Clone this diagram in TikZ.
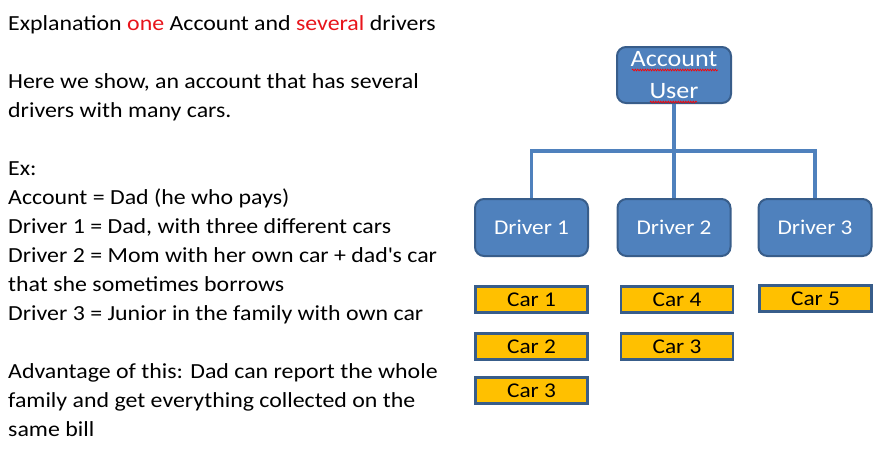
\documentclass[tikz,border=0pt]{standalone}
\usepackage{fontspec}
\setmainfont{Carlito}[FakeStretch=1.11]
\usetikzlibrary{decorations.pathmorphing}
\definecolor{boxblue}{HTML}{4F81BD}
\definecolor{edgeblue}{HTML}{385D8A}
\definecolor{caryellow}{HTML}{FFC000}
\definecolor{txtred}{HTML}{E8141B}
\newcommand{\straightq}{\XeTeXglyph\XeTeXcharglyph"27\relax}
\begin{document}
\begin{tikzpicture}[x=1pt,y=-1pt,
  txt/.style={anchor=base west,inner sep=0pt,font=\fontsize{21.5}{29}\selectfont},
  accbox/.style={rounded corners=9pt,fill=boxblue,draw=edgeblue,line width=2pt,
    minimum width=114pt,minimum height=56pt,inner sep=0pt,text=white,align=center,
    font=\fontsize{23.5}{32}\selectfont},
  driverbox/.style={rounded corners=9pt,fill=boxblue,draw=edgeblue,line width=2pt,
    minimum width=113pt,minimum height=57pt,inner sep=0pt,text=white,
    font=\fontsize{21}{26}\selectfont},
  carbox/.style={fill=caryellow,draw=edgeblue,line width=2.5pt,
    minimum width=112pt,minimum height=26pt,inner sep=0pt,text=black,
    font=\fontsize{21}{25}\selectfont},
  conn/.style={draw=boxblue,line width=3.5pt},
  squiggle/.style={draw=red,line width=0.7pt,decorate,
    decoration={snake,segment length=2.5pt,amplitude=0.9pt}}]
\useasboundingbox (0,0) rectangle (884,459);
\fill[white] (0,0) rectangle (884,459);
% left text
\node[txt] (l1) at (8,30) {Explanation \textcolor{txtred}{one} Account and \textcolor{txtred}{several} drivers};
\node[txt] (l2) at (8,88) {Here we show, an account that has several};
\node[txt] (l3) at (8,117) {drivers with many cars.};
\node[txt] (l4) at (8,175) {Ex:};
\node[txt] (l5) at (8,204) {Account = Dad (he who pays)};
\node[txt] (l6) at (8,233) {Driver 1 = Dad, with three different cars};
\node[txt] (l7) at (8,262) {Driver 2 = Mom with her own car + dad\straightq s car};
\node[txt] (l8) at (8,291) {that she sometimes borrows};
\node[txt] (l9) at (8,320) {Driver 3 = Junior in the family with own car};
\node[txt] (l10) at (8,378) {Advantage of this: Dad can report the whole};
\node[txt] (l11) at (8,407) {family and get everything collected on the};
\node[txt] (l12) at (8,436) {same bill};
% boxes
\node[accbox] (acc) at (674,75) {Account\\User};
\node[driverbox] (d1) at (531.5,227.5) {Driver 1};
\node[driverbox] (d2) at (674,227.5) {Driver 2};
\node[driverbox] (d3) at (815,227.5) {Driver 3};
\node[carbox] (c1) at (531.5,299.5) {Car 1};
\node[carbox] (c2) at (531.5,346.5) {Car 2};
\node[carbox] (c3) at (531.5,390.5) {Car 3};
\node[carbox] (c4) at (677,299.5) {Car 4};
\node[carbox] (c3b) at (677,346.5) {Car 3};
\node[carbox] (c5) at (815.5,298.5) {Car 5};
% connectors
\coordinate (bus) at (674,151);
\draw[conn] (acc.south) -- (bus);
\draw[conn] (d1.north) |- (bus) -| (d3.north);
\draw[conn] (bus) -- (d2.north);
% spell-check squiggles
\coordinate (s1a) at (632,70);
\coordinate (s1b) at (718,70);
\coordinate (s2a) at (650,102);
\coordinate (s2b) at (697,102);
\draw[squiggle] (s1a) -- (s1b);
\draw[squiggle] (s2a) -- (s2b);
\end{tikzpicture}
\end{document}
